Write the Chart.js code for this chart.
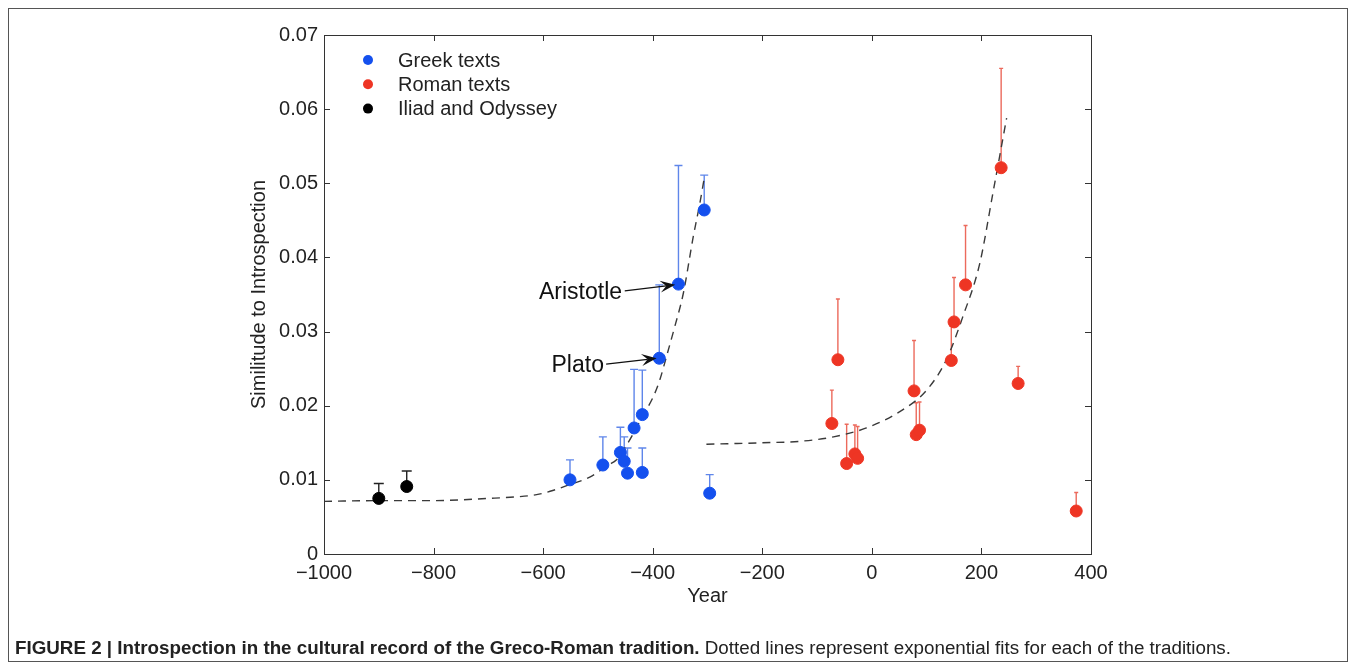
<!DOCTYPE html>
<html>
<head>
<meta charset="utf-8">
<script src="https://cdn.jsdelivr.net/npm/chart.js@4/dist/chart.umd.min.js"></script>
<style>
  html, body { margin: 0; padding: 0; background: #fff; }
  #wrap { position: relative; width: 1355px; height: 668px; overflow: hidden; }
  #frame { position: absolute; left: 8px; top: 8px; width: 1340px; height: 654px; border: 1px solid #555; box-sizing: border-box; }
  #chart { position: absolute; left: 0; top: 0; }
  #caption { position: absolute; left: 15px; top: 637px; font-family: 'Liberation Sans', Arial, sans-serif; font-size: 18.8px; line-height: 22px; color: #222; white-space: nowrap; }
</style>
</head>
<body>
<div id="wrap">
  <div id="frame"></div>
  <canvas id="chart" width="1355" height="668"></canvas>
  <div id="caption"><b>FIGURE 2 | Introspection in the cultural record of the Greco-Roman tradition.</b> Dotted lines represent exponential fits for each of the traditions.</div>
</div>
<script>
// Greek texts
const greekYears  = [-551, -491, -459, -452, -446, -419, -434, -419, -388, -353, -306, -296];
const greekValues = [0.0100, 0.0120, 0.0137, 0.0125, 0.0109, 0.0110, 0.0170, 0.0188, 0.0264, 0.0364, 0.0464, 0.0082];
const greekUpper  = [0.0127, 0.0158, 0.0171, 0.0158, 0.0143, 0.0143, 0.0249, 0.0248, 0.0363, 0.0524, 0.0511, 0.0107];

// Roman texts
const romanYears  = [-73, -62, -46, -31, -26, 77, 81, 87, 145, 150, 171, 236, 267, 373];
const romanValues = [0.0176, 0.0262, 0.0122, 0.0135, 0.0129, 0.0220, 0.0161, 0.0167, 0.0261, 0.0313, 0.0363, 0.0521, 0.0230, 0.0058];
const romanUpper  = [0.0221, 0.0344, 0.0175, 0.0174, 0.0172, 0.0288, 0.0204, 0.0205, 0.0307, 0.0373, 0.0443, 0.0655, 0.0253, 0.0083];

// Iliad and Odyssey
const homerYears  = [-900, -849];
const homerValues = [0.0075, 0.0091];
const homerUpper  = [0.0095, 0.0112];

// exponential fits
const greekFitYears  = [-1000, -900, -800, -700, -650, -612, -581, -550, -514, -481, -466, -450, -435, -420, -399, -387, -375, -360, -344, -326, -314, -305];
const greekFitValues = [0.0071, 0.0072, 0.0072, 0.0075, 0.0077, 0.0080, 0.0086, 0.0094, 0.0104, 0.0120, 0.0127, 0.0144, 0.0163, 0.0184, 0.0212, 0.0235, 0.0266, 0.0306, 0.0352, 0.0428, 0.0473, 0.0511];
const romanFitYears  = [-302, -200, -131, -70, -10, 51, 100, 136, 166, 197, 221, 246];
const romanFitValues = [0.0148, 0.0150, 0.0152, 0.0158, 0.0170, 0.0192, 0.0221, 0.0262, 0.0320, 0.0392, 0.0487, 0.0588];

// axes
const xTicks = [-1000, -800, -600, -400, -200, 0, 200, 400];
const yTicks = [0, 0.01, 0.02, 0.03, 0.04, 0.05, 0.06, 0.07];

// labelled points
const noteLabels = ['Aristotle', 'Plato'];
const noteTextAt = [[-456, 0.0352], [-489, 0.0254]];
const noteTailAt = [[-451, 0.0355], [-485, 0.0256]];
const noteTipAt  = [[-359, 0.0363], [-393, 0.0264]];

const toPoints = (xs, ys) => xs.map((x, i) => ({x: x, y: ys[i]}));

Chart.defaults.font.family = "'Liberation Sans', Arial, sans-serif";
Chart.defaults.color = '#222';

// error bars (upper side only)
const errorBars = {
  id: 'errorBars',
  beforeDatasetsDraw(chart) {
    const {ctx, scales: {y}} = chart;
    ctx.save();
    chart.data.datasets.forEach((ds, i) => {
      if (!ds.upper) return;
      const meta = chart.getDatasetMeta(i);
      ctx.strokeStyle = ds.barColor;
      ctx.lineWidth = 1.4;
      meta.data.forEach((pt, j) => {
        const top = y.getPixelForValue(ds.upper[j]);
        ctx.beginPath();
        ctx.moveTo(pt.x, pt.y);
        ctx.lineTo(pt.x, top);
        ctx.moveTo(pt.x - ds.capHalf, top);
        ctx.lineTo(pt.x + ds.capHalf, top);
        ctx.stroke();
      });
    });
    ctx.restore();
  }
};

// matlab style box with inward ticks
const boxAxes = {
  id: 'boxAxes',
  afterDraw(chart) {
    const {ctx, chartArea: {left, right, top, bottom}, scales: {x, y}} = chart;
    ctx.save();
    ctx.strokeStyle = '#333';
    ctx.lineWidth = 1;
    ctx.strokeRect(left + 0.5, top + 0.5, right - left, bottom - top);
    ctx.beginPath();
    x.ticks.forEach(t => {
      const px = Math.round(x.getPixelForValue(t.value)) + 0.5;
      ctx.moveTo(px, bottom); ctx.lineTo(px, bottom - 6);
      ctx.moveTo(px, top); ctx.lineTo(px, top + 6);
    });
    y.ticks.forEach(t => {
      const py = Math.round(y.getPixelForValue(t.value)) + 0.5;
      ctx.moveTo(left, py); ctx.lineTo(left + 6, py);
      ctx.moveTo(right, py); ctx.lineTo(right - 6, py);
    });
    ctx.stroke();
    ctx.restore();
  }
};

// legend inside the plot, top left
const insideLegend = {
  id: 'insideLegend',
  afterDraw(chart) {
    const {ctx, chartArea: {left, top}} = chart;
    ctx.save();
    ctx.font = "20px 'Liberation Sans', Arial, sans-serif";
    ctx.textBaseline = 'middle';
    ctx.textAlign = 'left';
    let row = 0;
    chart.data.datasets.forEach(ds => {
      if (ds.fit) return;
      const cy = top + 25 + row * 24.3;
      ctx.fillStyle = ds.backgroundColor;
      ctx.beginPath();
      ctx.arc(left + 44, cy, 5, 0, 2 * Math.PI);
      ctx.fill();
      ctx.fillStyle = '#222';
      ctx.fillText(ds.label, left + 74, cy + 1);
      row++;
    });
    ctx.restore();
  }
};

// Aristotle / Plato arrows
const notes = {
  id: 'notes',
  afterDatasetsDraw(chart) {
    const {ctx, scales: {x, y}} = chart;
    ctx.save();
    ctx.font = "23px 'Liberation Sans', Arial, sans-serif";
    ctx.textAlign = 'right';
    ctx.textBaseline = 'middle';
    ctx.fillStyle = '#111';
    ctx.strokeStyle = '#111';
    ctx.lineWidth = 1.2;
    noteLabels.forEach((txt, i) => {
      ctx.fillText(txt, x.getPixelForValue(noteTextAt[i][0]), y.getPixelForValue(noteTextAt[i][1]));
      const x0 = x.getPixelForValue(noteTailAt[i][0]), y0 = y.getPixelForValue(noteTailAt[i][1]);
      const x1 = x.getPixelForValue(noteTipAt[i][0]),  y1 = y.getPixelForValue(noteTipAt[i][1]);
      const a = Math.atan2(y1 - y0, x1 - x0);
      const ux = Math.cos(a), uy = Math.sin(a);
      const L = 15, W = 6;
      ctx.beginPath();
      ctx.moveTo(x0, y0);
      ctx.lineTo(x1 - ux * L * 0.6, y1 - uy * L * 0.6);
      ctx.stroke();
      ctx.beginPath();
      ctx.moveTo(x1, y1);
      ctx.lineTo(x1 - ux * L - uy * W, y1 - uy * L + ux * W);
      ctx.lineTo(x1 - ux * L * 0.6, y1 - uy * L * 0.6);
      ctx.lineTo(x1 - ux * L + uy * W, y1 - uy * L - ux * W);
      ctx.closePath();
      ctx.fill();
    });
    ctx.restore();
  }
};

const fitStyle = {
  type: 'line',
  fit: true,
  showLine: true,
  pointRadius: 0,
  borderColor: '#3a3a3a',
  borderWidth: 1.4,
  borderDash: [8, 6],
  cubicInterpolationMode: 'monotone',
  fill: false,
  order: 2
};

new Chart(document.getElementById('chart'), {
  type: 'scatter',
  data: {
    datasets: [
      {
        label: 'Greek texts',
        data: toPoints(greekYears, greekValues),
        upper: greekUpper,
        backgroundColor: '#1450ee',
        borderColor: '#1450ee',
        barColor: '#5f86ea',
        capHalf: 4,
        pointRadius: 6,
        order: 1
      },
      {
        label: 'Roman texts',
        data: toPoints(romanYears, romanValues),
        upper: romanUpper,
        backgroundColor: '#ee3524',
        borderColor: '#ee3524',
        barColor: '#ec6a5c',
        capHalf: 2,
        pointRadius: 6,
        order: 1
      },
      {
        label: 'Iliad and Odyssey',
        data: toPoints(homerYears, homerValues),
        upper: homerUpper,
        backgroundColor: '#000',
        borderColor: '#000',
        barColor: '#222',
        capHalf: 5,
        pointRadius: 6,
        order: 1
      },
      Object.assign({label: 'Greek fit', data: toPoints(greekFitYears, greekFitValues)}, fitStyle),
      Object.assign({label: 'Roman fit', data: toPoints(romanFitYears, romanFitValues)}, fitStyle)
    ]
  },
  options: {
    responsive: false,
    animation: false,
    layout: { padding: { left: 236, top: 35, right: 264, bottom: 60 } },
    plugins: {
      legend: { display: false },
      tooltip: { enabled: false }
    },
    scales: {
      x: {
        type: 'linear',
        min: -1000,
        max: 400,
        afterBuildTicks: s => { s.ticks = xTicks.map(v => ({value: v})); },
        afterFit: s => { s.height = 54; },
        grid: { display: false, drawTicks: false },
        border: { display: false },
        ticks: {
          padding: 7,
          font: { size: 20 },
          color: '#222',
          maxRotation: 0,
          callback: v => v < 0 ? '\u2212' + Math.abs(v) : String(v)
        },
        title: { display: true, text: 'Year', font: { size: 20 }, color: '#222', padding: { top: 0, bottom: 0 } }
      },
      y: {
        type: 'linear',
        min: 0,
        max: 0.07,
        afterBuildTicks: s => { s.ticks = yTicks.map(v => ({value: v})); },
        afterFit: s => { s.width = 88; },
        grid: { display: false, drawTicks: false },
        border: { display: false },
        ticks: {
          padding: 6,
          font: { size: 20 },
          color: '#222',
          callback: v => v === 0 ? '0' : v.toFixed(2)
        },
        title: { display: true, text: 'Similitude to Introspection', font: { size: 20 }, color: '#222', padding: { top: 11, bottom: 0 } }
      }
    }
  },
  plugins: [errorBars, boxAxes, insideLegend, notes]
});
</script>
</body>
</html>
